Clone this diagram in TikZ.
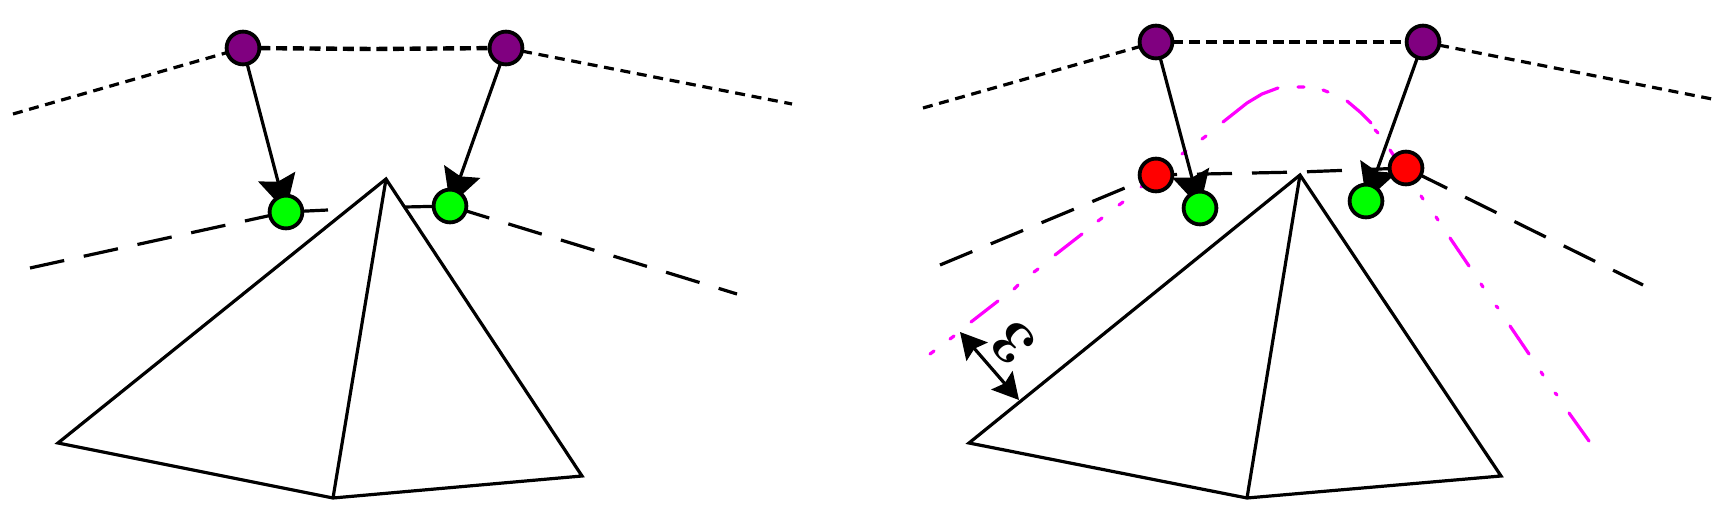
\documentclass[tikz,border=0pt]{standalone}
\usetikzlibrary{arrows.meta,backgrounds}
\definecolor{dotpurple}{HTML}{800080}
\definecolor{dotgreen}{HTML}{00FF00}
\definecolor{dotred}{HTML}{FF0000}
\definecolor{curvemag}{HTML}{FF00FF}
\tikzset{
  dot/.style={circle,draw=black,line width=1.9pt,minimum size=16.4pt,inner sep=0pt,outer sep=0pt},
  pdot/.style={dot,fill=dotpurple},
  gdot/.style={dot,fill=dotgreen},
  rdot/.style={dot,fill=dotred},
  shortdash/.style={line width=1.6pt,dash pattern=on 5pt off 3.35pt},
  shortthick/.style={line width=2.2pt,dash pattern=on 5.5pt off 2.85pt},
  longdash/.style={line width=1.6pt,dash pattern=on 17.5pt off 10pt},
  solidarrow/.style={line width=1.6pt,shorten >=-8pt,-{Stealth[length=18pt,width=19pt,inset=2.5pt]}},
  dimarrow/.style={line width=1.6pt,{Stealth[length=13pt,width=14pt,inset=2pt]}-{Stealth[length=13pt,width=14pt,inset=2pt]}},
  pyramid/.style={line width=1.6pt,fill=white,line join=miter},
  pyrline/.style={line width=1.6pt},
  curveseg/.style={line width=1.6pt,draw=curvemag,line cap=round},
}
\begin{document}
\begin{tikzpicture}[x=0.5pt,y=-0.5pt]
\useasboundingbox (0,0) rectangle (1728,518);
% left picture
\node[pdot] (p1) at (243,48) {};
\node[pdot] (p2) at (506,48) {};
\node[gdot] (g1) at (286,212) {};
\node[gdot] (g2) at (450,206) {};
\coordinate (la) at (13,114);
\coordinate (lb) at (373,49);
\coordinate (lc) at (792,104);
\coordinate (ld) at (30,268);
\coordinate (le) at (328,210);
\coordinate (lf) at (405,207);
\coordinate (lg) at (737,294);
\coordinate (A1) at (386,179);
\coordinate (A2) at (58,443);
\coordinate (A3) at (333,498);
\coordinate (A4) at (582,476);
% right picture
\node[pdot] (p3) at (1156,42) {};
\node[pdot] (p4) at (1423,42) {};
\node[rdot] (r1) at (1156,175) {};
\node[rdot] (r2) at (1406,168) {};
\node[gdot] (g3) at (1200,208) {};
\node[gdot] (g4) at (1366,201) {};
\coordinate (ra) at (923,108);
\coordinate (rb) at (1297,42);
\coordinate (rc) at (1712,99);
\coordinate (rd) at (940,265);
\coordinate (re) at (1300,172);
\coordinate (rf) at (1643,285);
\coordinate (B1) at (1300,175);
\coordinate (B2) at (969,443);
\coordinate (B3) at (1247,498);
\coordinate (B4) at (1501,476);
\coordinate (d1) at (960,332);
\coordinate (d2) at (1019,400);
\node[rotate=135,font=\fontsize{31}{31}\selectfont\bfseries,inner sep=0pt] (lab) at (1013,343) {3};
\begin{scope}[on background layer]
  % left
  \draw[shortdash] (la) -- (p1);
  \draw[shortthick] (p1) -- (lb) -- (p2);
  \draw[shortdash] (p2) -- (lc);
  \draw[longdash] (ld) -- (g1.center) -- (le);
  \draw[longdash,dash phase=2pt] (lf) -- (g2.center) -- (lg);
  \draw[pyramid] (A1) -- (A2) -- (A3) -- (A4) -- cycle;
  \draw[pyrline] (A1) -- (A3);
  \draw[solidarrow] (p1) -- (g1);
  \draw[solidarrow] (p2) -- (g2);
  % right
  \draw[shortdash] (ra) -- (p3);
  \draw[shortthick] (p3) -- (rb) -- (p4);
  \draw[shortdash] (p4) -- (rc);
  \draw[longdash] (rd) -- (r1.center) -- (re) -- (r2.center) -- (rf);
  \draw[pyramid] (B1) -- (B2) -- (B3) -- (B4) -- cycle;
  \draw[pyrline] (B1) -- (B3);
  \draw[curveseg]
    (930,354) -- (934,351)
    (950,339) -- (954,336)
    (971,322) -- (998,301)
    (1014,289) -- (1018,285)
    (1034,272) -- (1038,269)
    (1055,255) -- (1082,234)
    (1098,221) -- (1102,218)
    (1119,205) -- (1123,202)
    (1141,187) -- (1167,167)
    (1182,154) -- (1186,151)
    (1202,139) -- (1206,136)
    (1223,122) -- (1247,103) -- (1262,94) -- (1278,88)
    (1298,87) -- (1304,87)
    (1323,90) -- (1328,92)
    (1347,101) -- (1360,112) -- (1371,123)
    (1375,130) -- (1378,133)
    (1390,150) -- (1409,178)
    (1421,196) -- (1423,199)
    (1436,217) -- (1438,220)
    (1450,238) -- (1469,266)
    (1481,284) -- (1483,287)
    (1496,306) -- (1498,308)
    (1510,326) -- (1529,354)
    (1541,372) -- (1543,375)
    (1555,393) -- (1557,395)
    (1569,413) -- (1589,441);
  \draw[solidarrow] (p3) -- (g3);
  \draw[solidarrow] (p4) -- (g4);
  \draw[dimarrow] (d1) -- (d2);
\end{scope}
\end{tikzpicture}
\end{document}
